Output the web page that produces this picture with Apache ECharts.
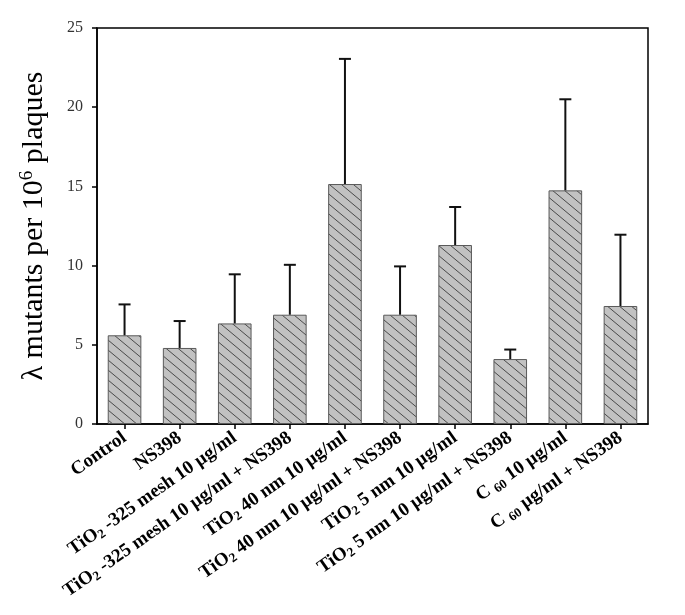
<!DOCTYPE html>
<html>
<head>
<meta charset="utf-8">
<script src="https://cdn.jsdelivr.net/npm/echarts@6/dist/echarts.min.js"></script>
<style>html,body{margin:0;padding:0;background:#fff}#c{width:685px;height:615px}</style>
</head>
<body>
<div id="c"></div>
<script>
const categories = [
  "Control",
  "NS398",
  "TiO2 -325 mesh 10 µg/ml",
  "TiO2 -325 mesh 10 µg/ml + NS398",
  "TiO2 40 nm 10 µg/ml",
  "TiO2 40 nm 10 µg/ml + NS398",
  "TiO2 5 nm 10 µg/ml",
  "TiO2 5 nm 10 µg/ml + NS398",
  "C60 10 µg/ml",
  "C60 µg/ml + NS398"
];
const means = [5.6, 4.8, 6.35, 6.9, 15.15, 6.9, 11.3, 4.1, 14.75, 7.45];
const errors = [1.95, 1.7, 3.1, 3.15, 7.9, 3.05, 2.4, 0.6, 5.75, 4.5];
const yTicks = [0, 5, 10, 15, 20, 25];

const SERIF = '"Liberation Serif","Times New Roman",serif';

function hatch() {
  const w = 12, h = 10;
  const c = document.createElement('canvas');
  c.width = w; c.height = h;
  const g = c.getContext('2d');
  g.fillStyle = '#c2c2c2';
  g.fillRect(0, 0, w, h);
  g.strokeStyle = '#4a4a4a';
  g.lineWidth = 1;
  g.beginPath();
  for (let k = -2; k <= 2; k++) {
    g.moveTo(k * w - w, -h);
    g.lineTo(k * w + 2 * w, 2 * h);
  }
  g.stroke();
  return c;
}

function fmt(s) {
  const out = s.replace(/TiO2/g, '\u0001').replace(/C60/g, '\u0002');
  const parts = out.split(/(\u0001|\u0002)/);
  return parts.filter(p => p.length).map(p => {
    if (p === '\u0001') return '{b|TiO}{s|2}';
    if (p === '\u0002') return '{b|C }{s|60}';
    return '{b|' + p + '}';
  }).join('');
}

const chart = echarts.init(document.getElementById('c'), null, {renderer: 'canvas'});
chart.setOption({
  animation: false,
  backgroundColor: '#fff',
  grid: {left: 97, right: 37, top: 28, bottom: 191, show: true, borderColor: '#000', borderWidth: 1.5},
  xAxis: {
    type: 'category',
    data: categories,
    axisLine: {lineStyle: {color: '#000', width: 1.5}},
    axisTick: {show: true, alignWithLabel: true, length: 5, lineStyle: {color: '#000', width: 1.5}},
    axisLabel: {
      interval: 0,
      rotate: 35,
      margin: 12,
      formatter: fmt,
      rich: {
        b: {fontFamily: SERIF, fontWeight: 'bold', fontSize: 19, color: '#000', lineHeight: 22},
        s: {fontFamily: SERIF, fontWeight: 'bold', fontSize: 13, color: '#000', lineHeight: 13, padding: [9, 0, 0, 0]}
      }
    }
  },
  yAxis: {
    type: 'value',
    min: 0, max: 25, interval: 5,
    name: '{a|λ mutants per 10}{p|6}{a| plaques}',
    nameLocation: 'middle',
    nameGap: 46,
    nameTextStyle: {
      rich: {
        a: {fontFamily: SERIF, fontSize: 30, color: '#000', lineHeight: 34},
        p: {fontFamily: SERIF, fontSize: 19, color: '#000', lineHeight: 20, padding: [0, 0, 14, 0]}
      }
    },
    axisLine: {show: true, lineStyle: {color: '#000', width: 1.5}},
    axisTick: {show: true, length: 5, lineStyle: {color: '#000', width: 1.5}},
    splitLine: {show: false},
    axisLabel: {
      fontFamily: SERIF, fontSize: 16, color: '#333', margin: 14,
      formatter: v => yTicks.includes(v) ? String(v) : ''
    }
  },
  series: [
    {
      type: 'bar',
      data: means,
      barWidth: '61%',
      itemStyle: {color: {image: hatch(), repeat: 'repeat'}, borderColor: '#5a5a5a', borderWidth: 1},
      z: 2
    },
    {
      type: 'custom',
      z: 3,
      data: means.map((m, i) => [i, m, m + errors[i]]),
      renderItem: function (params, api) {
        const x = api.value(0);
        const p0 = api.coord([x, api.value(1)]);
        const p1 = api.coord([x, api.value(2)]);
        const hw = 6;
        return {
          type: 'group',
          children: [
            {type: 'line', shape: {x1: p0[0], y1: p0[1], x2: p1[0], y2: p1[1]}, style: {stroke: '#111', lineWidth: 2}},
            {type: 'line', shape: {x1: p1[0] - hw, y1: p1[1], x2: p1[0] + hw, y2: p1[1]}, style: {stroke: '#111', lineWidth: 2}}
          ]
        };
      }
    }
  ]
});
</script>
</body>
</html>
